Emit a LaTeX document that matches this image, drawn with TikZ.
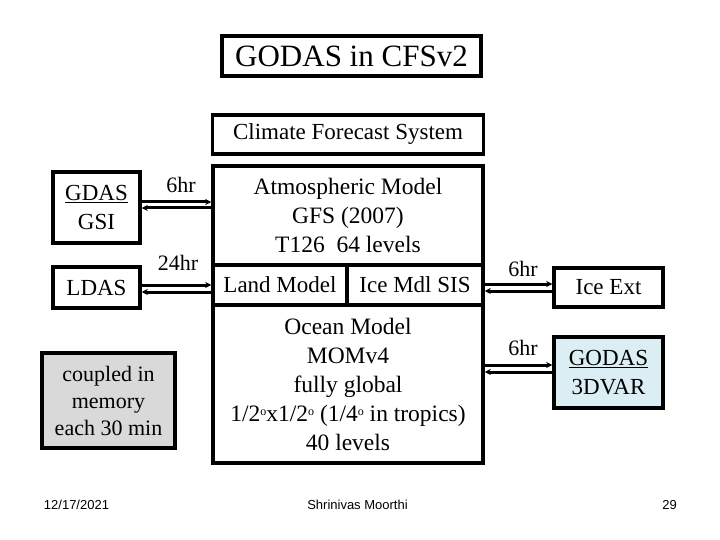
\documentclass[tikz,border=0pt]{standalone}
\usepackage{fontspec}
\setmainfont{Liberation Serif}
\newfontfamily\footfont{Liberation Sans}
\usetikzlibrary{arrows.meta}
\definecolor{coupledgray}{HTML}{D9D9D9}
\definecolor{godasblue}{HTML}{DBEEF3}
\newcommand{\degsym}{\raisebox{0.55ex}{\fontsize{12}{12}\selectfont o}}
\tikzset{
  box/.style={draw=black, line width=3.5pt, rectangle, inner sep=0pt, align=center, font=\fontsize{23}{28}\selectfont},
  link/.style={line width=3pt, -{Stealth[length=6pt,width=6pt]}},
  lbl/.style={font=\fontsize{22}{26}\selectfont, inner sep=0pt},
  foot/.style={font=\footfont\fontsize{13}{15}\selectfont, inner sep=0pt}
}
\begin{document}
\begin{tikzpicture}[x=1pt,y=-1pt]
\useasboundingbox (0,0) rectangle (720,540);
% title
\node[box, minimum width=259pt, minimum height=40pt, font=\fontsize{31}{36}\selectfont] (title) at (351.5,56) {GODAS in CFSv2};
\node[box, minimum width=271pt, minimum height=39pt] (cfs) at (348,134.5) {Climate Forecast System};
% main model box parts
\node[box, minimum width=270pt, minimum height=99pt, font=\fontsize{23.5}{29}\selectfont] (atm) at (348,215.5) {Atmospheric Model\\GFS (2007)\\T126\ \ 64 levels};
\node[box, minimum width=134pt, minimum height=40pt] (land) at (280,285) {Land Model};
\node[box, minimum width=136pt, minimum height=40pt] (ice) at (415,285) {Ice Mdl SIS};
\node[box, minimum width=270pt, minimum height=158pt, font=\fontsize{23.5}{29}\selectfont] (ocean) at (348,384) {Ocean Model\\MOMv4\\fully global\\1/2\degsym x1/2\degsym\ (1/4\degsym\ in tropics)\\40 levels};
% left boxes
\node[box, minimum width=87pt, minimum height=71pt, font=\fontsize{23}{29}\selectfont] (gdas) at (96.5,207.5) {\underline{GDAS}\\GSI};
\node[box, minimum width=87pt, minimum height=41pt] (ldas) at (96.5,287.5) {LDAS};
\node[box, fill=coupledgray, minimum width=133pt, minimum height=95pt, font=\fontsize{22}{27}\selectfont] (coupled) at (108.5,400.5) {coupled in\\memory\\each 30 min};
% right boxes
\node[box, minimum width=109pt, minimum height=39pt] (iceext) at (608.5,287.5) {Ice Ext};
\node[box, fill=godasblue, minimum width=109pt, minimum height=71pt, font=\fontsize{23}{29}\selectfont] (godas) at (608.5,372.5) {\underline{GODAS}\\3DVAR};
% connectors
\draw[link] (gdas.east |- 0,202) -- (atm.west |- 0,202);
\draw[link] (atm.west |- 0,208) -- (gdas.east |- 0,208);
\draw[link] (ldas.east |- 0,285) -- (land.west |- 0,285);
\draw[link] (land.west |- 0,292) -- (ldas.east |- 0,292);
\draw[link] (ice.east |- 0,284) -- (iceext.west |- 0,284);
\draw[link] (iceext.west |- 0,291) -- (ice.east |- 0,291);
\draw[link] (ocean.east |- 0,365) -- (godas.west |- 0,365);
\draw[link] (godas.west |- 0,372) -- (ocean.east |- 0,372);
% labels
\node[lbl] (l1) at (181,185) {6hr};
\node[lbl] (l2) at (178,263) {24hr};
\node[lbl] (l3) at (523,269) {6hr};
\node[lbl] (l4) at (523,348) {6hr};
% footer
\node[foot] (f1) at (76.5,505) {12/17/2021};
\node[foot] (f2) at (357.5,505) {Shrinivas Moorthi};
\node[foot] (f3) at (669.5,505) {29};
\end{tikzpicture}
\end{document}
